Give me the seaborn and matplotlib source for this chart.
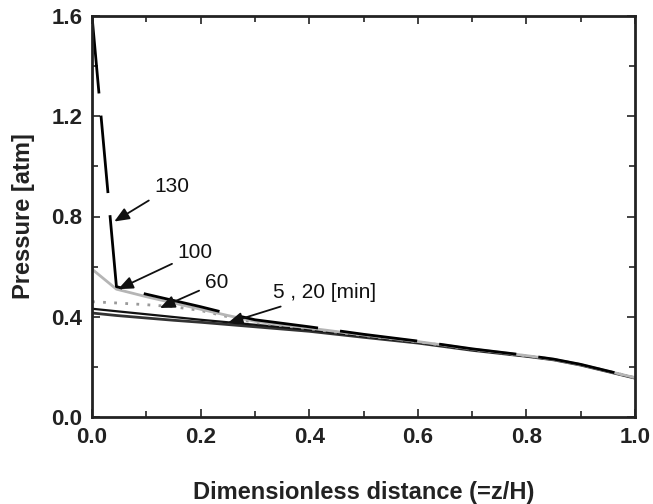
import matplotlib
matplotlib.use("Agg")
import matplotlib.pyplot as plt
from matplotlib.ticker import MultipleLocator
import seaborn as sns
import pandas as pd

# ---- data ----
z = [0, 0.045, 0.1, 0.15, 0.2, 0.25, 0.3, 0.4, 0.5, 0.6, 0.7, 0.8, 0.85, 0.9, 1.0]
p5 = [0.415, 0.405, 0.395, 0.386, 0.378, 0.369, 0.36, 0.342, 0.318, 0.295, 0.266, 0.242, 0.228, 0.207, 0.155]
p20 = [0.432, 0.422, 0.41, 0.399, 0.388, 0.378, 0.368, 0.348, 0.322, 0.298, 0.268, 0.243, 0.229, 0.208, 0.156]
p60 = [0.46, 0.455, 0.448, 0.44, 0.425, 0.40, 0.377, 0.352, 0.325, 0.30, 0.27, 0.244, 0.23, 0.209, 0.157]
p100 = [0.59, 0.51, 0.48, 0.455, 0.43, 0.405, 0.382, 0.355, 0.327, 0.301, 0.271, 0.245, 0.23, 0.209, 0.157]
p130 = [1.6, 0.52, 0.49, 0.465, 0.44, 0.413, 0.388, 0.36, 0.33, 0.303, 0.272, 0.246, 0.231, 0.21, 0.157]

x_ticks = [0.0, 0.2, 0.4, 0.6, 0.8, 1.0]
y_ticks = [0.0, 0.4, 0.8, 1.2, 1.6]

labels = ["130", "100", "60", "5 , 20 [min]"]
label_xy = [(0.115, 0.92), (0.158, 0.655), (0.208, 0.535), (0.333, 0.495)]
tip_xy = [(0.041, 0.78), (0.048, 0.51), (0.125, 0.435), (0.25, 0.375)]

sns.set_style("ticks")
plt.rcParams['font.family'] = ['Liberation Sans', 'DejaVu Sans']

fig = plt.figure(figsize=(6.53, 5.04), dpi=100)
ax = fig.add_axes([92/653, 1 - 417/504, (635-92)/653, (417-16)/504])

sns.lineplot(x=z, y=p5, ax=ax, color="#333333", lw=2.0)
sns.lineplot(x=z, y=p20, ax=ax, color="#111111", lw=1.6)
sns.lineplot(x=z, y=p60, ax=ax, color="#9a9a9a", lw=2.0, linestyle=(0, (1, 3)))
sns.lineplot(x=z, y=p100, ax=ax, color="#b5b5b5", lw=2.0)
sns.lineplot(x=z, y=p130, ax=ax, color="black", lw=2.0, linestyle=(0, (28, 8)))

for lab, (tx, ty), (ax_, ay) in zip(labels, label_xy, tip_xy):
    ax.annotate(lab, xy=(ax_, ay), xytext=(tx, ty), textcoords='data',
                fontsize=15, ha='left', va='center', color='#111111',
                arrowprops=dict(arrowstyle='-|>,head_length=0.6,head_width=0.25',
                                color='#111111', lw=1.3, shrinkA=2, shrinkB=0))

ax.set_xlim(0, 1.0)
ax.set_ylim(0, 1.6)
ax.set_xticks(x_ticks)
ax.set_yticks(y_ticks)
ax.set_xticklabels([f"{v:.1f}" for v in x_ticks])
ax.set_yticklabels([f"{v:.1f}" for v in y_ticks])
ax.xaxis.set_minor_locator(MultipleLocator(0.1))
ax.yaxis.set_minor_locator(MultipleLocator(0.2))
ax.tick_params(which='both', direction='in', top=True, right=True, width=1.2, color='#222222')
ax.tick_params(which='major', length=6, labelsize=16, pad=7)
ax.tick_params(which='minor', length=4)
for t in ax.get_xticklabels() + ax.get_yticklabels():
    t.set_fontweight('bold')
    t.set_color('#222222')
for s in ax.spines.values():
    s.set_linewidth(2.0)
    s.set_color('#222222')
    s.set_visible(True)

ax.set_xlabel("Dimensionless distance (=z/H)", fontsize=17, fontweight='bold', color='#222222', labelpad=24)
ax.set_ylabel("Pressure [atm]", fontsize=17, fontweight='bold', color='#222222', labelpad=12)

fig.savefig("out.png", dpi=100)
